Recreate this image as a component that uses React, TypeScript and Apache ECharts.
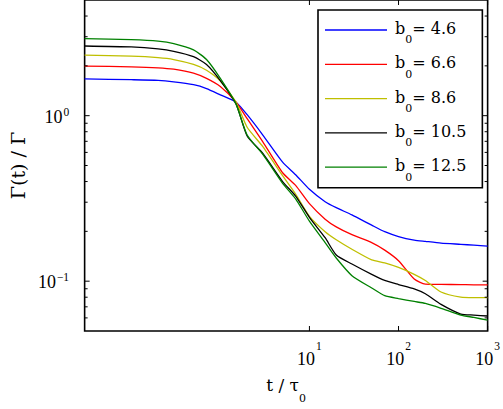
import React, { useEffect, useRef } from "react";
import * as echarts from "echarts";

// Sampling times t / tau0 shared by every curve
const times = [0.03, 0.1, 0.2, 0.3, 0.5, 0.7, 1, 1.5, 2, 3, 5, 7, 10, 15, 20, 30, 50, 70, 100, 150, 200, 300, 500, 700, 1000];

// Gamma(t) / Gamma for each initial b0
const gammaB46 = [1.668, 1.65, 1.635, 1.602, 1.538, 1.458, 1.336, 1.207, 1.014, 0.764, 0.524, 0.44, 0.359, 0.302, 0.278, 0.2515, 0.218, 0.199, 0.186, 0.177, 0.174, 0.17, 0.167, 0.165, 0.163];
const gammaB66 = [1.995, 1.974, 1.947, 1.909, 1.808, 1.68, 1.5, 1.207, 0.96, 0.695, 0.452, 0.379, 0.294, 0.237, 0.213, 0.191, 0.171, 0.154, 0.133, 0.103, 0.096, 0.0956, 0.0954, 0.0951, 0.0951];
const gammaB86 = [2.321, 2.289, 2.243, 2.184, 2.041, 1.883, 1.62, 1.207, 0.851, 0.65, 0.434, 0.336, 0.2465, 0.199, 0.178, 0.156, 0.1345, 0.129, 0.121, 0.11, 0.101, 0.086, 0.08, 0.0795, 0.0795];
const gammaB105 = [2.637, 2.602, 2.532, 2.448, 2.274, 2.04, 1.63, 1.175, 0.754, 0.591, 0.4, 0.327, 0.243, 0.183, 0.144, 0.127, 0.11, 0.101, 0.0954, 0.0898, 0.0839, 0.0724, 0.0633, 0.0624, 0.0616];
const gammaB125 = [2.925, 2.877, 2.82, 2.728, 2.498, 2.184, 1.68, 1.175, 0.764, 0.583, 0.39, 0.314, 0.2305, 0.171, 0.138, 0.108, 0.091, 0.0817, 0.0785, 0.0754, 0.0734, 0.0686, 0.0624, 0.0604, 0.0581];

const b0Labels = ["4.6", "6.6", "8.6", "10.5", "12.5"];
const lineColors = ["#0000ff", "#ff0000", "#bfbf00", "#000000", "#008000"];
const curves = [gammaB46, gammaB66, gammaB86, gammaB105, gammaB125];

// Axis limits and tick positions
const X_MIN = 0.03;
const X_MAX = 1000;
const Y_MIN = 0.05;
const Y_MAX = 5;
const xTickValues = [10, 100, 1000];
const yMajorTicks = [0.1, 1];
const yMinorTicks = [0.06, 0.07, 0.08, 0.09, 0.2, 0.3, 0.4, 0.5, 0.6, 0.7, 0.8, 0.9, 2, 3, 4];

const TICK_FONT = "'Liberation Serif', 'Times New Roman', serif";
const TEXT_FONT = "'DejaVu Serif', serif";

const seriesName = (b: string) => `b0 = ${b}`;

function powerOfTen(v: number): number | null {
  const e = Math.log10(v);
  const r = Math.round(e);
  return Math.abs(e - r) < 1e-6 ? r : null;
}

// rich-text token: every token of a label shares one line height, and the
// top padding places the glyphs inside that line
const tok = (family: string, size: number, lineHeight: number, padTop: number, padLeft = 0) => ({
  fontFamily: family,
  fontSize: size,
  lineHeight,
  color: "#000",
  verticalAlign: "top",
  padding: [padTop, 0, 0, padLeft],
});

export default function App() {
  const ref = useRef<HTMLDivElement>(null);

  useEffect(() => {
    if (!ref.current) return;
    const chart = echarts.init(ref.current, null, { renderer: "svg" });

    const lineSeries = curves.map((vals, i) => ({
      name: seriesName(b0Labels[i]),
      type: "line",
      data: times.map((t, k) => [t, vals[k]]),
      symbol: "none",
      smooth: 0.2,
      lineStyle: { color: lineColors[i], width: 1.3 },
      itemStyle: { color: lineColors[i] },
      z: 3,
    }));

    const tickStyle = { stroke: "#000", lineWidth: 1 };

    const xTickSeries = {
      type: "custom",
      silent: true,
      z: 5,
      data: xTickValues.map((v) => [v, Y_MIN]),
      renderItem: (_p: any, api: any) => {
        const v = api.value(0);
        const b = api.coord([v, Y_MIN]);
        const t = api.coord([v, Y_MAX]);
        return {
          type: "group",
          children: [
            { type: "line", shape: { x1: b[0], y1: b[1], x2: b[0], y2: b[1] - 5 }, style: tickStyle },
            { type: "line", shape: { x1: t[0], y1: t[1], x2: t[0], y2: t[1] + 5 }, style: tickStyle },
          ],
        };
      },
    };

    const yTickSeries = {
      type: "custom",
      silent: true,
      z: 5,
      data: [
        ...yMajorTicks.map((v) => [X_MIN, v, 5]),
        ...yMinorTicks.map((v) => [X_MIN, v, 3]),
      ],
      renderItem: (_p: any, api: any) => {
        const v = api.value(1);
        const len = api.value(2);
        const l = api.coord([X_MIN, v]);
        const r = api.coord([X_MAX, v]);
        return {
          type: "group",
          children: [
            { type: "line", shape: { x1: l[0], y1: l[1], x2: l[0] + len, y2: l[1] }, style: tickStyle },
            { type: "line", shape: { x1: r[0], y1: r[1], x2: r[0] - len, y2: r[1] }, style: tickStyle },
          ],
        };
      },
    };

    chart.setOption({
      animation: false,
      backgroundColor: "#fff",
      grid: {
        left: 79,
        right: 13,
        top: 0,
        bottom: 70,
        show: true,
        borderColor: "#000",
        borderWidth: 1.6,
        backgroundColor: "transparent",
      },
      xAxis: {
        type: "log",
        logBase: 10,
        min: X_MIN,
        max: X_MAX,
        axisLine: { show: false },
        axisTick: { show: false },
        splitLine: { show: false },
        name: "{a|t / τ}{s|0}",
        nameLocation: "middle",
        nameGap: 45,
        nameTextStyle: {
          rich: {
            a: tok(TEXT_FONT, 17, 28, 0),
            s: tok(TEXT_FONT, 11, 28, 17),
          },
        },
        axisLabel: {
          interval: 0,
          margin: 9,
          formatter: (v: number) => {
            const e = powerOfTen(v);
            if (e === null || v < 10) return "";
            return `{b|10}{s|${e}}`;
          },
          rich: {
            b: tok(TICK_FONT, 18, 27, 9.5),
            s: tok(TICK_FONT, 11.5, 27, 0, 1),
          },
        },
      },
      yAxis: {
        type: "log",
        logBase: 10,
        min: Y_MIN,
        max: Y_MAX,
        axisLine: { show: false },
        axisTick: { show: false },
        splitLine: { show: false },
        name: "Γ(t) / Γ",
        nameLocation: "middle",
        nameGap: 54,
        nameTextStyle: { fontFamily: TEXT_FONT, fontSize: 19, color: "#000" },
        axisLabel: {
          margin: 15.5,
          formatter: (v: number) => {
            const e = powerOfTen(v);
            if (e === null) return "";
            const sup = e < 0 ? `−${-e}` : `${e}`;
            return `{b|10}{s|${sup}}`;
          },
          rich: {
            b: tok(TICK_FONT, 18, 19.5, 2),
            s: tok(TICK_FONT, 11.5, 19.5, 0, 1),
          },
        },
      },
      legend: {
        orient: "vertical",
        left: 318,
        top: 10,
        data: b0Labels.map(seriesName),
        icon: "rect",
        backgroundColor: "#fff",
        borderColor: "#000",
        borderWidth: 1.6,
        borderRadius: 0,
        padding: [5, 16, 5, 7],
        itemGap: 3.8,
        itemWidth: 62,
        itemHeight: 1.3,
        selectedMode: false,
        formatter: (name: string) => {
          const val = name.replace("b0 = ", "");
          return `{b|b}{s|0}{a|= ${val}}`;
        },
        textStyle: {
          rich: {
            b: tok(TEXT_FONT, 16, 30, 5.5, 3),
            s: tok(TEXT_FONT, 11, 30, 19.5),
            a: tok(TEXT_FONT, 16, 30, 5.5),
          },
        },
      },
      series: [...lineSeries, xTickSeries, yTickSeries],
    });

    return () => chart.dispose();
  }, []);

  return <div ref={ref} style={{ width: 503, height: 409, position: "absolute", left: 0, top: 0 }} />;
}
